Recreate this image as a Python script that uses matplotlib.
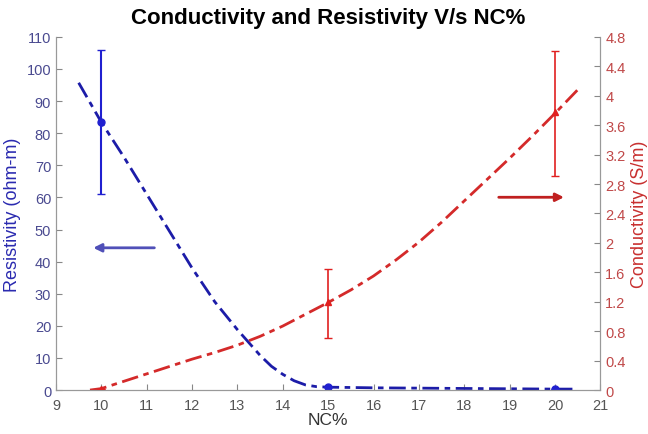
import numpy as np
import matplotlib
matplotlib.use("Agg")
import matplotlib.pyplot as plt

plt.rcParams['font.family'] = ['Liberation Sans', 'DejaVu Sans']

# measured points
nc = [10, 15, 20]
res = [83.5, 0.9, 0.3]
res_lo = [61, 0.9, 0.3]
res_hi = [106, 0.9, 0.3]
cond = [0.02, 1.19, 3.78]
cond_lo = [0.02, 0.71, 2.91]
cond_hi = [0.02, 1.64, 4.61]

# fitted curves
res_fit_x = [9.5, 10.0, 10.5, 11.0, 11.5, 12.0, 12.5, 13.0, 13.5, 13.75, 14.0, 14.25, 14.5, 14.75, 15.0,
             16, 17, 18, 19, 20, 20.5]
res_fit_y = [95.7, 83.4, 72.5, 61.0, 49.5, 38.0, 27.5, 18.8, 10.8, 7.4, 4.9, 2.9, 1.6, 1.05, 0.9,
             0.7, 0.6, 0.5, 0.4, 0.3, 0.3]
cond_fit_x = [9.75, 10.0, 10.5, 11.0, 11.5, 12.0, 12.5, 13.0, 13.5, 14.0, 14.5, 15.0,
              15.5, 16.0, 16.5, 17.0, 17.5, 18.0, 18.5, 19.0, 19.5, 20.0, 20.5]
cond_fit_y = [0.0, 0.02, 0.12, 0.22, 0.32, 0.42, 0.51, 0.61, 0.73, 0.87, 1.03, 1.19,
              1.36, 1.55, 1.77, 2.01, 2.28, 2.57, 2.86, 3.15, 3.45, 3.76, 4.08]

blue = '#1c1ca8'
red = '#d42a2a'
ls = (0, (6, 2, 2, 2))

fig = plt.figure(figsize=(6.48, 4.35), dpi=100)
ax = fig.add_axes([0.0864, 0.101, 0.840, 0.812])
ax2 = ax.twinx()

ax.plot(res_fit_x, res_fit_y, color=blue, lw=2, linestyle=ls)
ax.errorbar(nc, res, yerr=[np.subtract(res, res_lo), np.subtract(res_hi, res)],
            fmt='o', color='#2020d0', ms=5, capsize=3, lw=1.5)
ax2.plot(cond_fit_x, cond_fit_y, color=red, lw=2, linestyle=ls)
ax2.errorbar(nc, cond, yerr=[np.subtract(cond, cond_lo), np.subtract(cond_hi, cond)],
             fmt='^', color='#e02020', ms=5, capsize=3, lw=1.2)

ax.annotate('', xy=(9.76, 44.3), xytext=(11.23, 44.3),
            arrowprops=dict(arrowstyle='-|>', color='#5050b8', lw=2, mutation_scale=12))
ax2.annotate('', xy=(20.26, 2.62), xytext=(18.7, 2.62),
             arrowprops=dict(arrowstyle='-|>', color='#c02020', lw=2, mutation_scale=12))

ax.set_xlim(9, 21)
ax.set_ylim(0, 110)
ax2.set_ylim(0, 4.8)
ax.set_xticks(np.arange(9, 22, 1))
ax.set_yticks(np.arange(0, 111, 10))
ax2.set_yticks(np.arange(0, 4.81, 0.4))
ax2.set_yticklabels(['0', '0.4', '0.8', '1.2', '1.6', '2', '2.4', '2.8', '3.2', '3.6', '4', '4.4', '4.8'])

for a in (ax, ax2):
    a.spines['top'].set_visible(False)
    for s in ('left', 'right', 'bottom'):
        a.spines[s].set_color('#999999')
ax.tick_params(axis='both', direction='in', length=4, color='#888888', labelsize=10.5)
ax.tick_params(axis='y', labelcolor='#4a4a90')
ax.tick_params(axis='x', labelcolor='#555555', pad=6)
ax2.tick_params(axis='y', direction='in', length=4, color='#888888', labelsize=10.5, labelcolor='#c04848')

ax.set_xlabel('NC%', fontsize=12.5, color='#333333', labelpad=0)
ax.set_ylabel('Resistivity (ohm-m)', fontsize=13, color='#2a2ab0', labelpad=4)
ax2.set_ylabel('Conductivity (S/m)', fontsize=13, color='#c83030', labelpad=4)
ax.set_title('Conductivity and Resistivity V/s NC%', fontsize=16, fontweight='bold', pad=10)

plt.savefig('out.png')
